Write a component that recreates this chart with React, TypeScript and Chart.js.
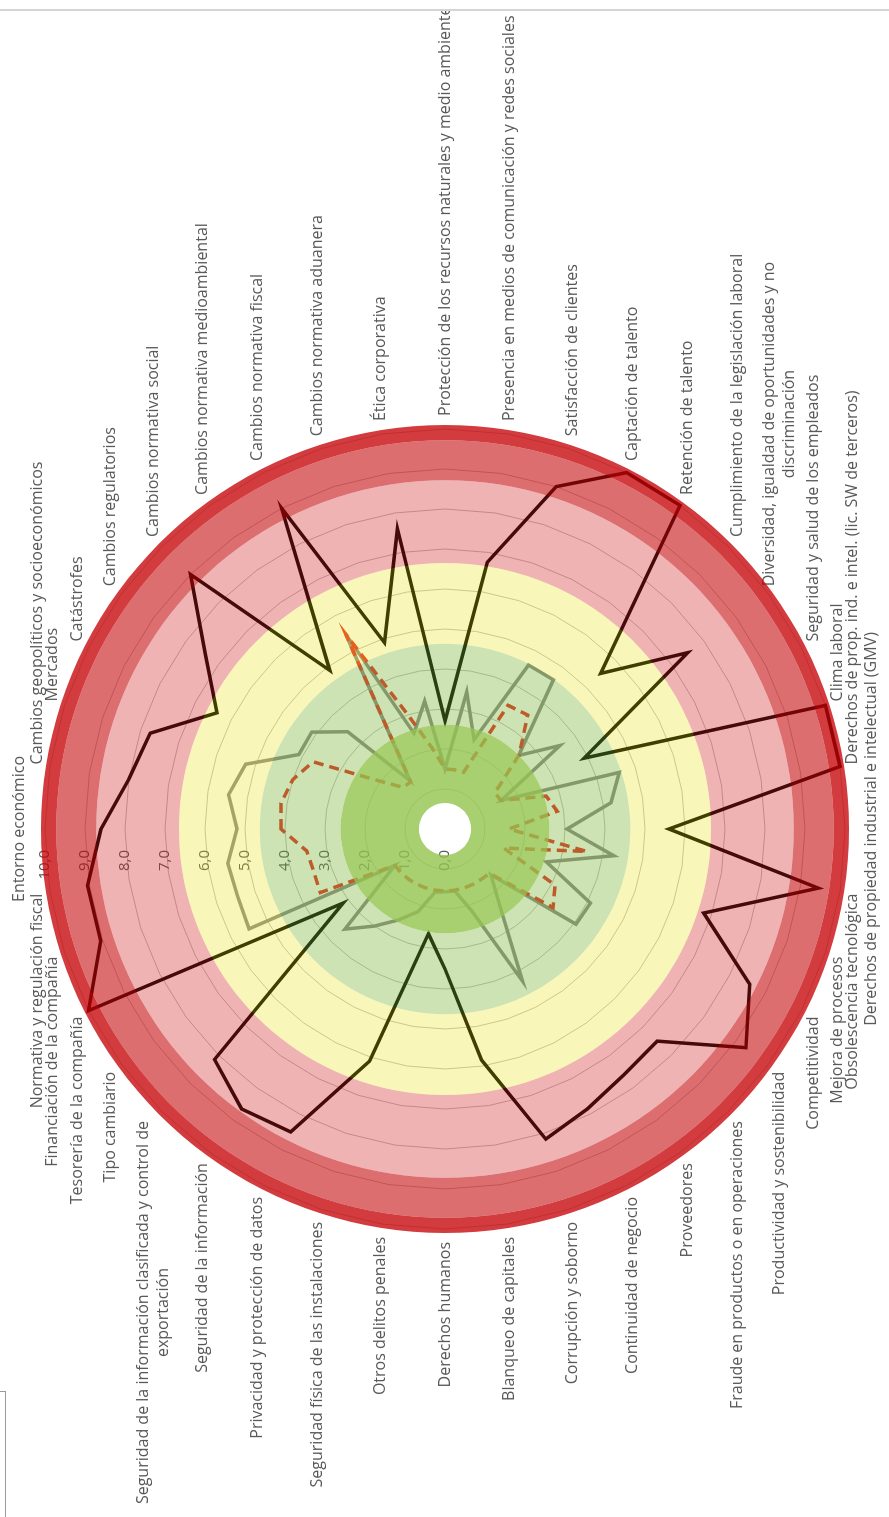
import React, { useEffect, useRef } from 'react';
import { Chart, registerables } from 'chart.js';

Chart.register(...registerables);

// ---------- data ----------
const CATEGORIES: (string | string[])[] = [
  'Entorno económico',
  'Cambios geopolíticos y socioeconómicos',
  'Mercados',
  'Catástrofes',
  'Cambios regulatorios',
  'Cambios normativa social',
  'Cambios normativa medioambiental',
  'Cambios normativa fiscal',
  'Cambios normativa aduanera',
  'Ética corporativa',
  'Protección de los recursos naturales y medio ambiente',
  'Presencia en medios de comunicación y redes sociales',
  'Satisfacción de clientes',
  'Captación de talento',
  'Retención de talento',
  'Cumplimiento de la legislación laboral',
  ['Diversidad, igualdad de oportunidades y no', 'discriminación'],
  'Seguridad y salud de los empleados',
  'Clima laboral',
  'Derechos de prop. ind. e intel. (lic. SW de terceros)',
  'Derechos de propiedad industrial e intelectual (GMV)',
  'Obsolescencia tecnológica',
  'Mejora de procesos',
  'Competitividad',
  'Productividad y sostenibilidad',
  'Fraude en productos o en operaciones',
  'Proveedores',
  'Continuidad de negocio',
  'Corrupción y soborno',
  'Blanqueo de capitales',
  'Derechos humanos',
  'Otros delitos penales',
  'Seguridad física de las instalaciones',
  'Privacidad y protección de datos',
  'Seguridad de la información',
  ['Seguridad de la información clasificada y control de', 'exportación'],
  'Tipo cambiario',
  'Tesorería de la compañía',
  'Financiación de la compañía',
  'Normativa y regulación fiscal',
];

const RIESGO_INHERENTE = [
  8.6, 8.0, 7.75, 6.4, 7.4, 9.0, 4.9, 9.0, 4.9, 7.6,
  2.7, 6.75, 9.0, 10.0, 10.0, 5.5, 7.5, 3.9, 10.0, 10.0,
  5.6, 9.45, 6.8, 8.55, 9.3, 7.5, 7.6, 7.85, 8.15, 5.85,
  3.5, 2.65, 6.1, 8.5, 8.65, 8.15, 3.15, 10.0, 9.05, 9.05,
];

const RIESGO_RESIDUAL = [
  5.2, 5.48, 5.24, 4.1, 4.12, 3.44, 1.49, 5.46, 2.52, 3.24,
  1.5, 3.47, 2.35, 4.6, 4.61, 2.6, 3.55, 1.57, 4.58, 4.2,
  3.05, 4.27, 2.66, 4.08, 4.05, 1.62, 2.3, 4.27, 2.15, 1.57,
  1.57, 1.6, 2.17, 2.55, 3.0, 3.54, 1.55, 5.5, 5.45, 5.5,
];

const RIESGO_OBJETIVO = [
  4.1, 4.15, 4.0, 3.7, 2.05, 1.47, 1.46, 5.46, 3.0, 2.05,
  1.5, 1.5, 1.49, 3.47, 3.52, 2.62, 1.54, 1.57, 2.66, 2.84,
  1.6, 3.59, 1.54, 3.09, 3.34, 1.57, 1.55, 1.55, 1.55, 1.55,
  1.55, 1.55, 1.55, 1.55, 1.55, 1.55, 1.55, 3.5, 3.45, 3.5,
];

const TICK_VALUES = [0, 1, 2, 3, 4, 5, 6, 7, 8, 9, 10];
const TICK_LABELS = ['0,0', '1,0', '2,0', '3,0', '4,0', '5,0', '6,0', '7,0', '8,0', '9,0', '10,0'];

// risk zones (inner hole edge, then outer edge of each zone)
const ZONE_EDGES = [0.65, 2.61, 4.63, 6.65, 8.72, 9.72, 10.1];

// ---------- styles ----------
const ZONE_COLORS = [
  'rgba(146,196,76,0.8)',
  'rgba(117,178,47,0.36)',
  'rgba(232,222,8,0.28)',
  'rgba(208,30,30,0.337)',
  'rgba(195,8,12,0.59)',
  'rgba(198,4,8,0.776)',
];
const TEXT_COLOR = '#595959';
const LABEL_FONT = '16px "Open Sans"';
const TICK_FONT = '15px "Open Sans"';
const LINE_H = 20;

const textLayer = {
  id: 'radarTextLayer',
  beforeDatasetsDraw(chart: any) {
    const scale = chart.scales.r;
    const ctx = chart.ctx;
    const labels = chart.data.labels;
    const n = labels.length;
    ctx.save();
    ctx.fillStyle = TEXT_COLOR;
    // value axis labels, left of the vertical axis
    ctx.font = TICK_FONT;
    ctx.textAlign = 'right';
    ctx.textBaseline = 'middle';
    TICK_VALUES.forEach((v, k) => {
      const d = scale.getDistanceFromCenterForValue(v);
      ctx.fillText(TICK_LABELS[k], scale.xCenter - 21, scale.yCenter - d);
    });
    // category labels
    ctx.font = LABEL_FONT;
    ctx.textAlign = 'left';
    const base = scale.getDistanceFromCenterForValue(10);
    labels.forEach((lab: any, i: number) => {
      const lines: string[] = Array.isArray(lab) ? lab : [lab];
      const deg = (i * 360) / n;
      const vertical = deg === 0 || deg === 180;
      const p = scale.getPointPosition(i, base + (vertical ? 16 : 13));
      const widths = lines.map((t) => ctx.measureText(t).width);
      const bw = Math.max(...widths);
      const bh = lines.length * LINE_H;
      let left: number;
      let top: number;
      if (deg === 0) {
        left = p.x - bw / 2;
        top = p.y - bh;
      } else if (deg === 180) {
        left = p.x - bw / 2;
        top = p.y;
      } else if (deg < 180) {
        left = p.x;
        top = p.y - bh / 2;
      } else {
        left = p.x - bw;
        top = p.y - bh / 2;
      }
      lines.forEach((t, k) => {
        ctx.fillText(t, left + (bw - widths[k]) / 2, top + LINE_H * (k + 0.5));
      });
    });
    ctx.restore();
  },
};

export default function App() {
  const ref = useRef<HTMLCanvasElement>(null);

  useEffect(() => {
    if (!ref.current) return;
    const zoneSets = ZONE_EDGES.map((edge, k) => ({
      label: k === 0 ? 'Centro' : `Zona ${k}`,
      data: CATEGORIES.map(() => edge),
      fill: k === 0 ? false : '-1',
      backgroundColor: k === 0 ? 'rgba(0,0,0,0)' : ZONE_COLORS[k - 1],
      borderColor: 'rgba(0,0,0,0)',
      borderWidth: 0,
      pointRadius: 0,
      tension: 0.335,
      capBezierPoints: false,
      order: 0,
    }));
    const chart = new Chart(ref.current, {
      type: 'radar',
      data: {
        labels: CATEGORIES,
        datasets: [
          ...zoneSets,
          {
            label: 'Riesgo inherente',
            data: RIESGO_INHERENTE,
            borderColor: '#000000',
            borderWidth: 3.5,
            fill: false,
            pointRadius: 0,
            tension: 0,
            order: 1,
          },
          {
            label: 'Riesgo objetivo',
            data: RIESGO_OBJETIVO,
            borderColor: 'rgb(230,45,40)',
            borderWidth: 3.5,
            borderDash: [10, 6],
            fill: false,
            pointRadius: 0,
            tension: 0,
            order: 2,
          },
          {
            label: 'Riesgo residual',
            data: RIESGO_RESIDUAL,
            borderColor: 'rgb(140,140,140)',
            borderWidth: 3.5,
            fill: false,
            pointRadius: 0,
            tension: 0,
            order: 3,
          },
        ] as any,
      },
      options: {
        responsive: false,
        animation: false,
        layout: { padding: { left: 284, right: 414, top: 41, bottom: 40 } },
        plugins: { legend: { display: false }, tooltip: { enabled: false } },
        elements: { line: { borderJoinStyle: 'miter' }, point: { radius: 0 } },
        scales: {
          r: {
            min: 0,
            max: 10.1,
            startAngle: 0,
            ticks: { display: false, stepSize: 1, includeBounds: false },
            grid: { color: '#bfbfbf', lineWidth: 1 },
            angleLines: { display: false },
            pointLabels: { display: false },
          },
        },
      } as any,
      plugins: [textLayer],
    });
    return () => chart.destroy();
  }, []);

  return (
    <div
      style={{
        position: 'absolute',
        left: 0,
        top: 0,
        width: 889,
        height: 1517,
        overflow: 'hidden',
        background: '#ffffff',
      }}
    >
      <div style={{ position: 'absolute', left: 0, top: 9, width: 889, height: 2, background: '#d4d4d4' }} />
      <div
        style={{
          position: 'absolute',
          left: -10,
          top: 1391,
          width: 16,
          height: 126,
          border: '1px solid #9a9a9a',
          borderBottom: 'none',
          boxSizing: 'border-box',
        }}
      />
      <div
        style={{
          position: 'absolute',
          left: 0,
          top: 0,
          width: 1506,
          height: 889,
          transformOrigin: '0 0',
          transform: 'translate(0px, 1517px) rotate(-90deg)',
        }}
      >
        <canvas ref={ref} width={1506} height={889} style={{ display: 'block', width: 1506, height: 889 }} />
      </div>
    </div>
  );
}
